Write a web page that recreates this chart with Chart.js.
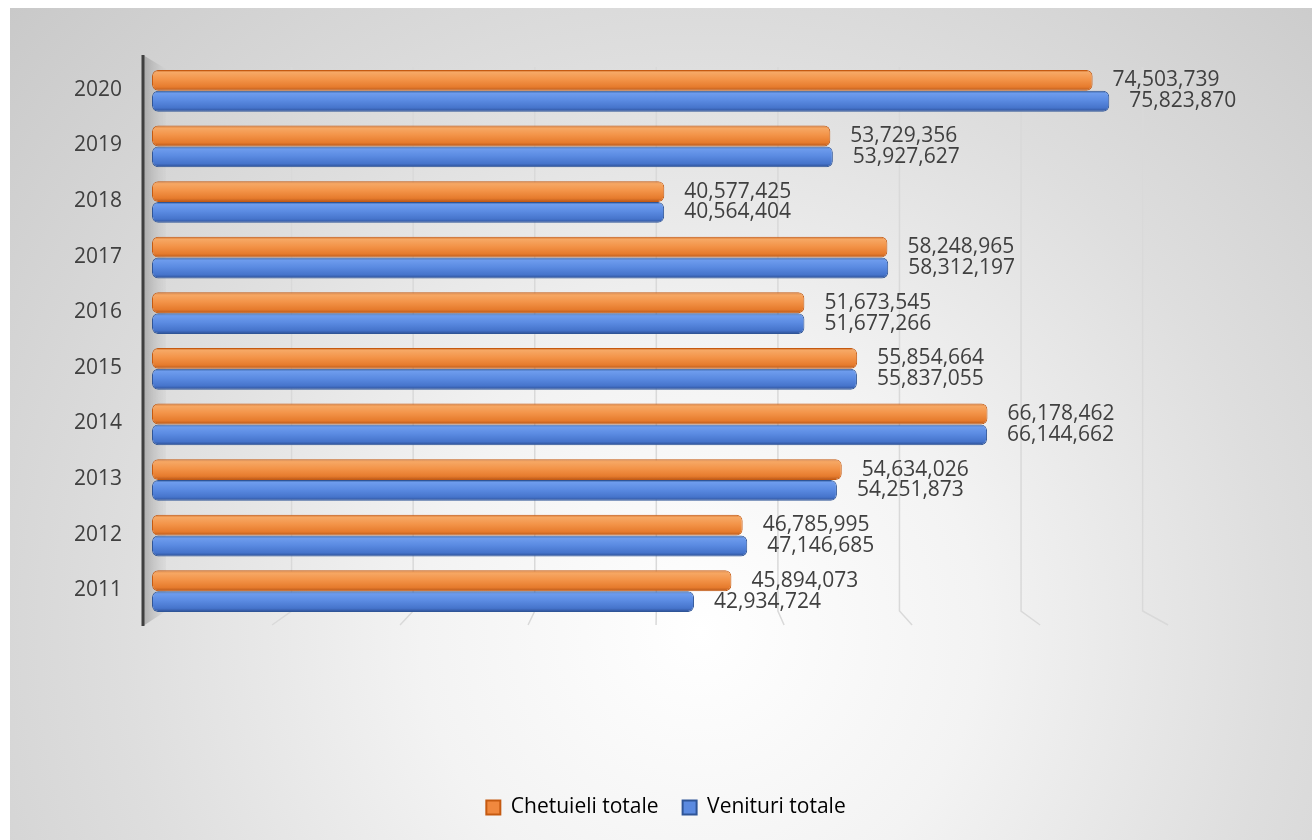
<!DOCTYPE html>
<html>
<head>
<meta charset="utf-8">
<script src="https://cdn.jsdelivr.net/npm/chart.js@4.4.1/dist/chart.umd.min.js"></script>
<style>
  html, body { margin: 0; padding: 0; background: #ffffff; }
  #wrap {
    position: absolute; left: 10px; top: 8px; width: 1302px; height: 832px;
    background: radial-gradient(circle farthest-corner at 53% 75%, #ffffff 0%, #f3f3f3 30%, #dedede 62%, #c9c9c9 100%);
  }
  canvas { display: block; }
</style>
</head>
<body>
<div id="wrap"><canvas id="c" width="1302" height="832"></canvas></div>
<script>
const years = ['2020', '2019', '2018', '2017', '2016', '2015', '2014', '2013', '2012', '2011'];
const chetuieliTotale = [74503739, 53729356, 40577425, 58248965, 51673545, 55854664, 66178462, 54634026, 46785995, 45894073];
const venituriTotale = [75823870, 53927627, 40564404, 58312197, 51677266, 55837055, 66144662, 54251873, 47146685, 42934724];
const seriesNames = ['Chetuieli totale', 'Venituri totale'];
const xTickValues = [10000000, 20000000, 30000000, 40000000, 50000000, 60000000, 70000000, 80000000];

const FONT = "'Open Sans', 'Liberation Sans', sans-serif";
const TEXT = '#404040';

const orangeStops = [[0, '#cf6a22'], [0.12, '#f6a865'], [0.45, '#f39449'], [0.82, '#e67b2d'], [1, '#b5561a']];
const blueStops = [[0, '#34609f'], [0.12, '#6e9ced'], [0.45, '#5b8be2'], [0.82, '#4674cb'], [1, '#2b4d92']];

function cylinder(stops, solid) {
  return function (ctx) {
    const el = ctx.element;
    if (!el || typeof el.y !== 'number' || !isFinite(el.y) || !el.height) return solid;
    const g = ctx.chart.ctx.createLinearGradient(0, el.y - el.height / 2, 0, el.y + el.height / 2);
    stops.forEach(s => g.addColorStop(s[0], s[1]));
    return g;
  };
}

const wallPlugin = {
  id: 'wall',
  beforeDatasetsDraw(chart) {
    const { ctx, chartArea: a, scales } = chart;
    const xs = scales.x;
    const axisX = a.left - 9;
    ctx.save();
    // side wall
    const g = ctx.createLinearGradient(axisX, 0, a.left + 14, 0);
    g.addColorStop(0, 'rgba(150,150,150,0.7)');
    g.addColorStop(1, 'rgba(205,205,205,0.3)');
    ctx.fillStyle = g;
    ctx.beginPath();
    ctx.moveTo(axisX, a.top - 8);
    ctx.lineTo(a.left + 14, a.top + 6);
    ctx.lineTo(a.left + 14, a.bottom - 8);
    ctx.lineTo(axisX, a.bottom + 7);
    ctx.closePath();
    ctx.fill();
    // grid lines on the back wall with 3D floor feet
    ctx.strokeStyle = '#d9d9d9';
    ctx.lineWidth = 1.5;
    xTickValues.forEach(v => {
      const d = xs.getPixelForValue(v) - a.left;
      const bx = a.left + 18 + d * 0.963;
      const fx = a.left - 8 + d * 1.014;
      ctx.beginPath();
      ctx.moveTo(bx, a.top + 4);
      ctx.lineTo(bx, a.bottom - 8);
      ctx.lineTo(fx, a.bottom + 6);
      ctx.stroke();
    });
    // axis line
    ctx.strokeStyle = '#3f3f3f';
    ctx.lineWidth = 3;
    ctx.beginPath();
    ctx.moveTo(axisX, a.top - 8);
    ctx.lineTo(axisX, a.bottom + 7);
    ctx.stroke();
    ctx.restore();
  }
};

const labelPlugin = {
  id: 'valueLabels',
  afterDatasetsDraw(chart) {
    const ctx = chart.ctx;
    ctx.save();
    ctx.font = '21px ' + FONT;
    ctx.fillStyle = TEXT;
    ctx.textAlign = 'left';
    ctx.textBaseline = 'middle';
    chart.data.datasets.forEach((ds, di) => {
      chart.getDatasetMeta(di).data.forEach((bar, i) => {
        ctx.fillText(ds.data[i].toLocaleString('en-US'), bar.x + 20, bar.y);
      });
    });
    ctx.restore();
  }
};

const chart = new Chart(document.getElementById('c'), {
  type: 'bar',
  data: {
    labels: years,
    datasets: [
      {
        label: seriesNames[0],
        data: chetuieliTotale,
        backgroundColor: cylinder(orangeStops, '#f0883e'),
        borderColor: '#c55a11',
        borderWidth: 1,
        borderSkipped: false,
        borderRadius: 6,
        categoryPercentage: 0.75,
        barPercentage: 1
      },
      {
        label: seriesNames[1],
        data: venituriTotale,
        backgroundColor: cylinder(blueStops, '#5b8ae0'),
        borderColor: '#2f5597',
        borderWidth: 1,
        borderSkipped: false,
        borderRadius: 6,
        categoryPercentage: 0.75,
        barPercentage: 1
      }
    ]
  },
  options: {
    indexAxis: 'y',
    responsive: false,
    animation: false,
    layout: { padding: { left: 10, right: 0, top: 55, bottom: 12 } },
    scales: {
      x: {
        min: 0,
        max: 80000000,
        grid: { display: false },
        border: { display: false },
        ticks: { display: false },
        afterFit(scale) { scale.height = 154; }
      },
      y: {
        grid: { display: false, drawTicks: false },
        border: { display: false },
        ticks: { color: TEXT, font: { family: FONT, size: 21 }, padding: 30, labelOffset: -1 },
        afterFit(scale) { scale.width = 132; }
      },
      yRight: {
        type: 'category',
        position: 'right',
        labels: years,
        grid: { display: false, drawTicks: false },
        border: { display: false },
        ticks: { display: false },
        afterFit(scale) { scale.width = 150; }
      }
    },
    plugins: {
      tooltip: { enabled: false },
      legend: {
        position: 'bottom',
        labels: {
          color: TEXT,
          font: { family: FONT, size: 21 },
          boxWidth: 14,
          boxHeight: 14,
          padding: 24,
          generateLabels() {
            return [
              { text: seriesNames[0], fillStyle: '#f0883e', strokeStyle: '#c55a11', lineWidth: 2, datasetIndex: 0, hidden: false },
              { text: seriesNames[1], fillStyle: '#5b8ae0', strokeStyle: '#2f5597', lineWidth: 2, datasetIndex: 1, hidden: false }
            ];
          }
        }
      }
    }
  },
  plugins: [wallPlugin, labelPlugin]
});
chart.update('none');
</script>
</body>
</html>
